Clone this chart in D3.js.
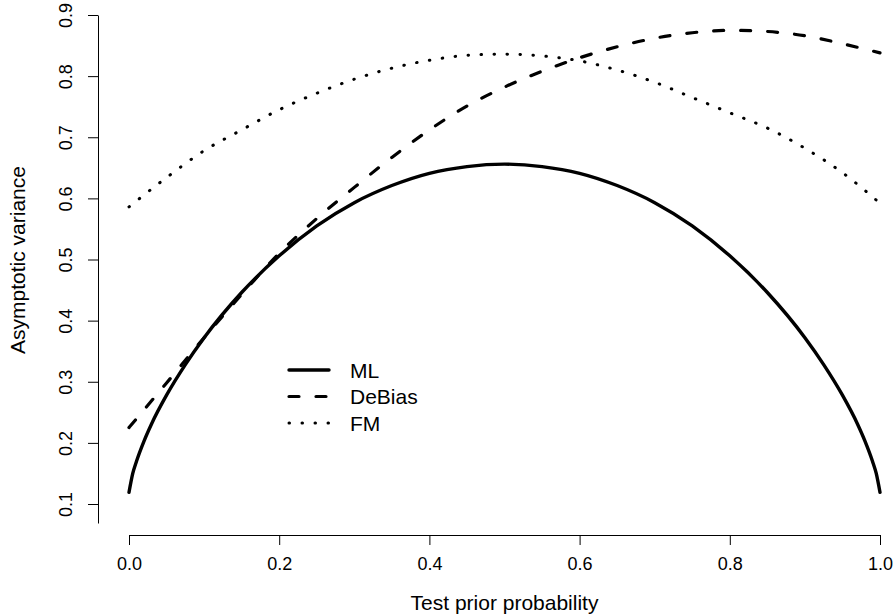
<!DOCTYPE html>
<html>
<head>
<meta charset="utf-8">
<script src="https://cdn.jsdelivr.net/npm/d3@7"></script>
<style>
  body { margin: 0; background: #fff; }
  svg text { font-family: "Liberation Sans", Arial, Helvetica, sans-serif; fill: #000; }
</style>
</head>
<body>
<div id="chart"></div>
<script>
// prior probability grid and the three curves
const probML = [0, 0.005, 0.01, 0.02, 0.03, 0.05, 0.075, 0.1, 0.15, 0.2, 0.25, 0.3, 0.35, 0.4, 0.45, 0.5,
                0.55, 0.6, 0.65, 0.7, 0.75, 0.8, 0.85, 0.9, 0.925, 0.95, 0.97, 0.98, 0.99, 0.995, 1];
const varML  = [0.119, 0.150, 0.170, 0.203, 0.231, 0.278, 0.328, 0.372, 0.446, 0.506, 0.555, 0.593, 0.621, 0.641, 0.652, 0.656,
                0.652, 0.641, 0.621, 0.593, 0.555, 0.506, 0.446, 0.372, 0.328, 0.278, 0.231, 0.203, 0.170, 0.150, 0.119];

const prob = [0, 0.05, 0.1, 0.15, 0.2, 0.25, 0.3, 0.35, 0.4, 0.45, 0.5, 0.55, 0.6, 0.65, 0.7, 0.75, 0.8, 0.85, 0.9, 0.95, 1];
const varDeBias = [0.225, 0.298, 0.372, 0.443, 0.510, 0.567, 0.618, 0.667, 0.712, 0.751, 0.782, 0.808, 0.830, 0.848, 0.862, 0.871, 0.875, 0.873, 0.866, 0.853, 0.838];
const varFM     = [0.586, 0.634, 0.678, 0.712, 0.745, 0.772, 0.795, 0.813, 0.826, 0.834, 0.836, 0.833, 0.825, 0.810, 0.790, 0.765, 0.740, 0.715, 0.682, 0.642, 0.592];

const xTicks = [0, 0.2, 0.4, 0.6, 0.8, 1.0];
const yTicks = [0.1, 0.2, 0.3, 0.4, 0.5, 0.6, 0.7, 0.8, 0.9];
const seriesNames = ["ML", "DeBias", "FM"];

const WIDTH = 896, HEIGHT = 616;

const svg = d3.select("#chart").append("svg")
    .attr("width", WIDTH)
    .attr("height", HEIGHT);

const x = d3.scaleLinear().domain([0, 1]).range([129, 880]);
const y = d3.scaleLinear().domain([0.1, 0.9]).range([504, 15]);
// the y axis line runs a little below the 0.1 tick
const yLine = y.copy().domain([y.invert(523), 0.9]).range([523, 15]);

// axes
const xAxis = svg.append("g")
    .attr("transform", "translate(0,535)")
    .call(d3.axisBottom(x).tickValues(xTicks).tickFormat(d3.format(".1f")).tickSizeInner(10).tickSizeOuter(0).tickPadding(12));
xAxis.selectAll("text").style("font-size", "18px");

const yAxis = svg.append("g")
    .attr("transform", "translate(98,0)")
    .call(d3.axisLeft(yLine).tickValues(yTicks).tickFormat(d3.format(".1f")).tickSizeInner(10).tickSizeOuter(0));
yAxis.selectAll(".tick text")
    .style("font-size", "18px")
    .attr("x", null).attr("dy", null)
    .attr("text-anchor", "middle")
    .attr("transform", "translate(-26,0) rotate(-90)");

svg.selectAll(".domain, .tick line").attr("stroke", "#000").attr("stroke-width", 1);

// axis titles
svg.append("text")
    .attr("x", 504.5).attr("y", 610)
    .attr("text-anchor", "middle")
    .style("font-size", "21px")
    .text("Test prior probability");

svg.append("text")
    .attr("transform", "translate(25,260) rotate(-90)")
    .attr("text-anchor", "middle")
    .style("font-size", "21px")
    .text("Asymptotic variance");

// curves
const line = d3.line()
    .x(d => x(d[0]))
    .y(d => y(d[1]))
    .curve(d3.curveMonotoneX);

const styles = {
    ML:     { dash: null,       width: 3.4 },
    DeBias: { dash: "10,17",    width: 3.2 },
    FM:     { dash: "0.5,12.5", width: 3.0 }
};

const curves = [
    { name: "ML",     pts: d3.zip(probML, varML) },
    { name: "DeBias", pts: d3.zip(prob, varDeBias) },
    { name: "FM",     pts: d3.zip(prob, varFM) }
];

svg.selectAll("path.curve")
    .data(curves)
    .enter()
    .append("path")
        .attr("class", "curve")
        .attr("d", d => line(d.pts))
        .attr("fill", "none")
        .attr("stroke", "#000")
        .attr("stroke-width", d => styles[d.name].width)
        .attr("stroke-linecap", "round")
        .attr("stroke-dasharray", d => styles[d.name].dash);

// legend
const legend = svg.append("g");
const legendY = d3.scalePoint().domain(seriesNames).range([370, 423]);

legend.selectAll("line")
    .data(seriesNames)
    .enter()
    .append("line")
        .attr("x1", 289).attr("x2", 329)
        .attr("y1", d => legendY(d)).attr("y2", d => legendY(d))
        .attr("stroke", "#000")
        .attr("stroke-width", d => styles[d].width)
        .attr("stroke-linecap", "round")
        .attr("stroke-dasharray", d => styles[d].dash);

legend.selectAll("text")
    .data(seriesNames)
    .enter()
    .append("text")
        .attr("x", 350)
        .attr("y", d => legendY(d))
        .attr("dy", "0.36em")
        .style("font-size", "21px")
        .text(d => d);
</script>
</body>
</html>
